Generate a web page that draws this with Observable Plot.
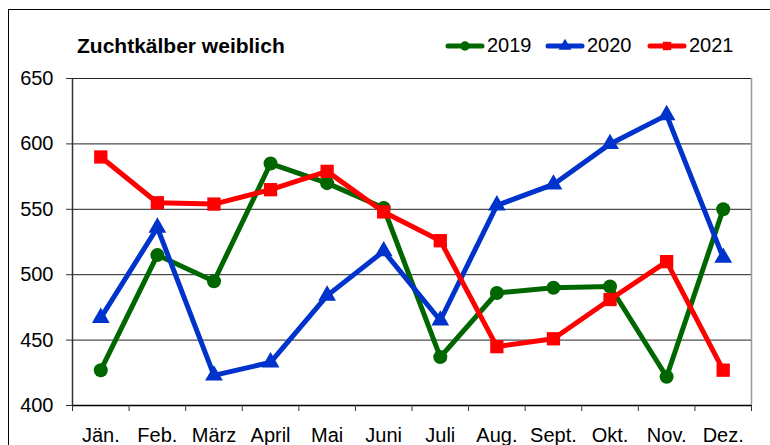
<!DOCTYPE html>
<html><head><meta charset="utf-8">
<script src="https://cdn.jsdelivr.net/npm/d3@7"></script>
<script src="https://cdn.jsdelivr.net/npm/@observablehq/plot@0.6"></script>
<style>
body{margin:0;background:#fff;font-family:"Liberation Sans",Arial,sans-serif;}
#wrap{position:relative;width:770px;height:445px;overflow:hidden;background:#fff;}
#border{position:absolute;left:8px;top:9px;width:800px;height:500px;border:1px solid #000;}
#chart{position:absolute;left:0;top:0;}
#title{position:absolute;left:77px;top:34px;font-weight:bold;font-size:21px;color:#000;white-space:nowrap;}
.leg{position:absolute;top:34px;display:flex;align-items:center;font-size:20px;color:#000;height:23px;}
.leg svg{display:block;margin-right:2px;}
</style></head><body>
<div id="wrap"><div id="border"></div><div id="chart"></div><div id="title">Zuchtkälber weiblich</div><div id="legend"></div></div>
<script>
const months = ["Jän.","Feb.","März","April","Mai","Juni","Juli","Aug.","Sept.","Okt.","Nov.","Dez."];
const years = ["2019","2020","2021"];
const v2019 = [427,515,495,585,570,551,437,486,490,491,422,550];
const v2020 = [467,536,423,433,484,518,465,553,569,600,622,513];
const v2021 = [590,555,554,565,579,548,526,445,451,481,510,427];
const yTicks = [400,450,500,550,600,650];

const colors = ["#006600","#0033cc","#ff0000"];
const symbols = ["circle","triangle","square"];
const radii = [7,6.6,7.5];
const legendLeft = [445,545,647];

const series = [v2019,v2020,v2021];
const idx = months.map((_, i) => i);
const boundaries = idx.map(i => i - 0.5).concat([months.length - 0.5]);
const xDomain = [-0.5, months.length - 0.5];
const yDomain = [yTicks[0], yTicks[yTicks.length - 1]];

const seriesMarks = years.flatMap((y, k) => {
  const rows = series[k].map((v, i) => ({i, year: y, value: v}));
  return [
    Plot.line(rows, {x: "i", y: "value", stroke: colors[k], strokeWidth: 5, strokeLinejoin: "round"}),
    Plot.dot(rows, {x: "i", y: "value", symbol: symbols[k], fill: colors[k], stroke: "none", r: radii[k]})
  ];
});

const chart = Plot.plot({
  width: 770,
  height: 445,
  marginLeft: 72,
  marginRight: 19,
  marginTop: 78,
  marginBottom: 40,
  style: {fontFamily: "'Liberation Sans', Arial, sans-serif", fontSize: "20px", background: "transparent", color: "#000"},
  x: {type: "linear", domain: xDomain, axis: null},
  y: {type: "linear", domain: yDomain, axis: null},
  marks: [
    Plot.ruleY(yTicks.slice(1), {stroke: "#222", strokeWidth: 1}),
    Plot.ruleX([xDomain[1]], {stroke: "#999", strokeWidth: 1.5}),
    Plot.ruleX([xDomain[0]], {stroke: "#333", strokeWidth: 1.5}),
    Plot.ruleY([yDomain[0]], {stroke: "#000", strokeWidth: 1.5}),
    Plot.axisY(yTicks, {tickSize: 6, tickPadding: 13, fontSize: 20, label: null, stroke: "#333"}),
    Plot.axisX(boundaries, {tickSize: 6, tickFormat: () => "", label: null, stroke: "#333"}),
    Plot.axisX(idx, {tickSize: 0, tickPadding: 22, tickFormat: i => months[i], fontSize: 20, label: null}),
    ...seriesMarks
  ]
});
document.getElementById("chart").appendChild(chart);

// legend
const legend = document.getElementById("legend");
years.forEach((y, k) => {
  const item = document.createElement("div");
  item.className = "leg";
  item.style.left = legendLeft[k] + "px";
  const svg = d3.create("svg").attr("width", 40).attr("height", 14);
  svg.append("line").attr("x1", 3).attr("x2", 37).attr("y1", 7).attr("y2", 7)
    .attr("stroke", colors[k]).attr("stroke-width", 5).attr("stroke-linecap", "round");
  svg.append("path").attr("transform", "translate(20,7)")
    .attr("d", d3.symbol(k === 0 ? d3.symbolCircle : k === 1 ? d3.symbolTriangle : d3.symbolSquare, 70)())
    .attr("fill", colors[k]);
  item.appendChild(svg.node());
  const t = document.createElement("span");
  t.textContent = y;
  item.appendChild(t);
  legend.appendChild(item);
});
</script>
</body></html>
